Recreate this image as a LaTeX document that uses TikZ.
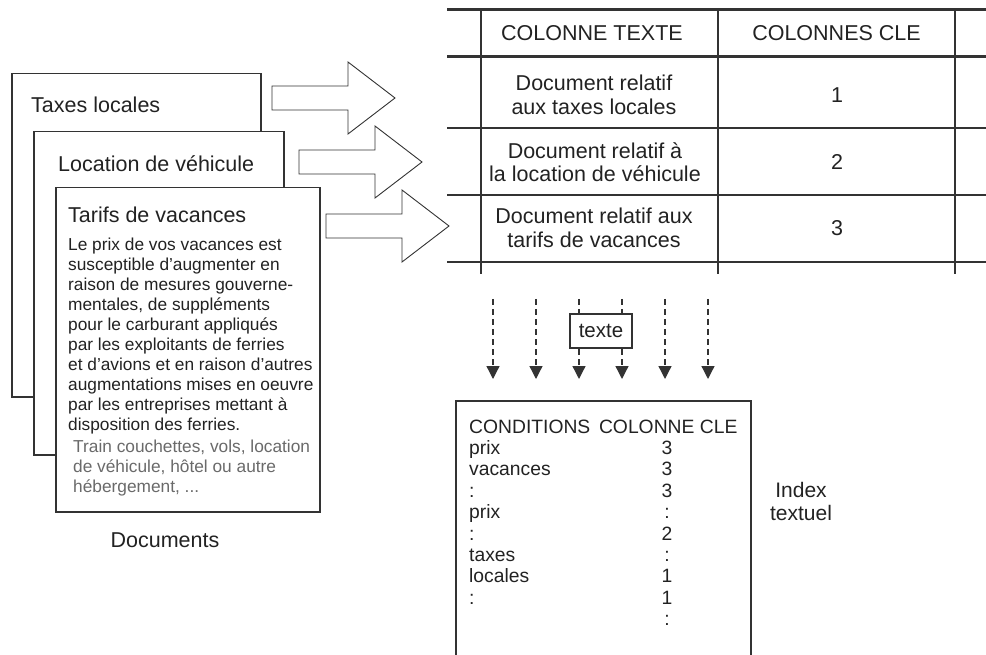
\documentclass[tikz,border=0pt]{standalone}
\usepackage{fontspec}
\setmainfont{Liberation Sans}
\usetikzlibrary{arrows.meta}
\definecolor{ink}{HTML}{222222}
\definecolor{lineg}{HTML}{333333}
\definecolor{greytxt}{HTML}{6A6A6A}
\begin{document}
\begin{tikzpicture}[x=1pt,y=-1pt,line join=miter,
  doc/.style={draw=lineg,line width=1.5pt,fill=white,anchor=north west,inner sep=0pt},
  blockarrow/.style={draw=lineg,line width=0.9pt,fill=white},
  tthin/.style={draw=lineg,line width=1.3pt},
  tthick/.style={draw=lineg,line width=3pt},
  flow/.style={draw=lineg,line width=1.3pt,dash pattern=on 6pt off 4pt,
    -{Triangle[width=13pt,length=13pt]}},
  title/.style={anchor=base west,inner sep=0pt,text=ink,font=\fontsize{21.5}{25}\selectfont},
  body/.style={anchor=north west,inner sep=0pt,align=left,font=\fontsize{17.3}{20}\selectfont},
  cell/.style={align=center,inner sep=0pt,text=ink,font=\fontsize{21.5}{23.5}\selectfont},
  idx/.style={anchor=base west,inner sep=0pt,text=ink,font=\fontsize{19.3}{22}\selectfont},
  idxn/.style={anchor=base,inner sep=0pt,text=ink,font=\fontsize{19.3}{22}\selectfont}
]
\useasboundingbox (0,0) rectangle (986,655);

% documents
\node[doc,minimum width=249pt,minimum height=323pt] (d1) at (11,73) {};
\node[doc,minimum width=250pt,minimum height=323pt] (d2) at (33,131) {};
\node[doc,minimum width=264pt,minimum height=324pt] (d3) at (55,187) {};
\node[title] (t1) at (31,113) {Taxes locales};
\node[title] (t2) at (58,171.5) {Location de véhicule};
\node[title] (t3) at (68,223) {Tarifs de vacances};
\node[body,text=ink] (b3) at (68,237.5) {Le prix de vos vacances est\\susceptible d'augmenter en\\raison de mesures gouverne-\\mentales, de suppléments\\pour le carburant appliqués\\par les exploitants de ferries\\et d'avions et en raison d'autres\\augmentations mises en oeuvre\\par les entreprises mettant à\\disposition des ferries.};
\node[body,text=greytxt] (g3) at (73,439.5) {Train couchettes, vols, location\\de véhicule, hôtel ou autre\\hébergement, ...};
\node[title,anchor=center] (docs) at (165,540) {Documents};

% block arrows
\foreach \dx/\dy in {0/0,27/64,54/128}{
  \draw[blockarrow,shift={(\dx,\dy)}] (272,86) -- (348,86) -- (348,62) -- (395,98)
    -- (348,134) -- (348,110) -- (272,110) -- cycle;
}

% table
\draw[tthick] (447,10) -- (986,10);
\draw[tthick] (447,57) -- (986,57);
\foreach \yy in {128,195,262}{\draw[tthin] (447,\yy) -- (986,\yy);}
\foreach \xx in {481,718,955}{\draw[tthin] (\xx,10) -- (\xx,274);}
\node[cell] (h1) at (592,33) {COLONNE TEXTE};
\node[cell] (h2) at (836.5,33) {COLONNES CLE};
\node[cell] (r1) at (594,95) {Document relatif\\aux taxes locales};
\node[cell] (r2) at (595,162) {Document relatif à\\la location de véhicule};
\node[cell] (r3) at (594,228) {Document relatif aux\\tarifs de vacances};
\node[cell] (k1) at (837,95) {1};
\node[cell] (k2) at (837,162) {2};
\node[cell] (k3) at (837,228) {3};

% dashed arrows
\foreach \i/\xx in {1/493,2/536,3/579,4/622,5/665,6/708}{
  \coordinate (s\i) at (\xx,299);
  \coordinate (e\i) at (\xx,379);
  \draw[flow] (s\i) -- (e\i);
}
\node[draw=lineg,line width=1.3pt,fill=white,minimum width=62pt,minimum height=34pt,inner sep=0pt,text=ink,font=\fontsize{20.5}{24}\selectfont] (tx) at (601,331) {texte};

% index box
\coordinate (ib1) at (456,655);
\coordinate (ib2) at (456,401);
\coordinate (ib3) at (751,401);
\coordinate (ib4) at (751,655);
\draw[draw=lineg,line width=1.5pt] (ib1) -- (ib2) -- (ib3) -- (ib4);
\node[idx] (ih) at (469,433) {CONDITIONS\hspace{0.45em}COLONNE CLE};
\foreach \k/\w/\n in {1/prix/3,2/vacances/3,3/:/3,4/prix/:,5/:/2,6/taxes/:,7/locales/1,8/:/1,9/{}/:}{
  \node[idx] (iw\k) at (469,433+21.4*\k) {\w};
  \node[idxn] (in\k) at (667,433+21.4*\k) {\n};
}
\node[align=center,inner sep=0pt,text=ink,font=\fontsize{21}{23}\selectfont] (it) at (801,501) {Index\\textuel};
\end{tikzpicture}
\end{document}
